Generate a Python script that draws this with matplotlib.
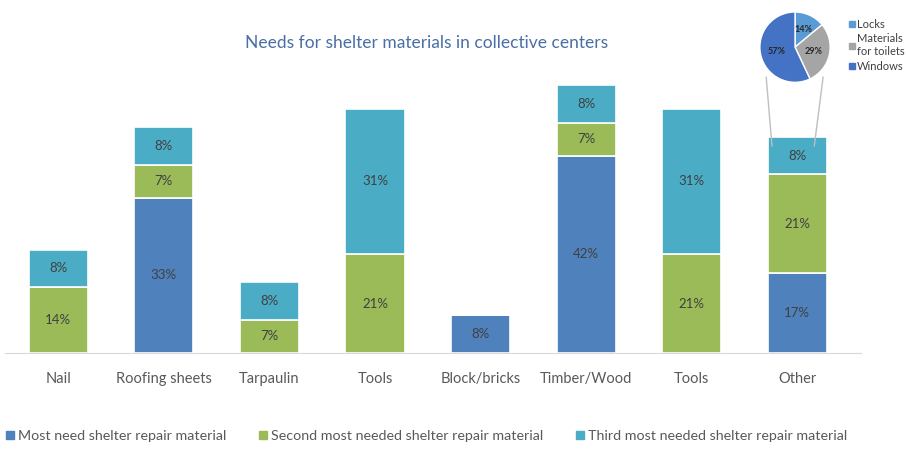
import matplotlib
matplotlib.use('Agg')
import matplotlib.pyplot as plt
import numpy as np
from matplotlib.patches import ConnectionPatch
from matplotlib.lines import Line2D

plt.rcParams['font.family'] = ['Lato', 'DejaVu Sans']

categories = ['Nail', 'Roofing sheets', 'Tarpaulin', 'Tools', 'Block/bricks',
              'Timber/Wood', 'Tools', 'Other']
most_needed = [0, 33, 0, 0, 8, 42, 0, 17]
second_needed = [14, 7, 7, 21, 0, 7, 21, 21]
third_needed = [8, 8, 8, 31, 0, 8, 31, 8]
series_names = ['Most need shelter repair material',
                'Second most needed shelter repair material',
                'Third most needed shelter repair material']

pie_labels = ['Locks', 'Materials\nfor toilets', 'Windows']
pie_values = [14, 29, 57]

BLUE, GREEN, CYAN = '#4F81BD', '#9BBB59', '#4BACC6'
PIE_COLORS = ['#5B9BD5', '#A5A5A5', '#4472C4']
TEXT = '#595959'

fig = plt.figure(figsize=(9.06, 4.49), dpi=100)
ax = fig.add_axes([0.006, 0.214, 0.944, 0.628])

x = np.arange(len(categories))
w = 0.56
bottom = np.zeros(len(categories))
for vals, col in zip([most_needed, second_needed, third_needed], [BLUE, GREEN, CYAN]):
    vals = np.array(vals, dtype=float)
    ax.bar(x, vals, w, bottom=bottom, color=col, edgecolor='white', linewidth=1.2)
    for xi, v, b in zip(x, vals, bottom):
        if v > 0:
            ax.text(xi, b + v / 2, '{:d}%'.format(int(v)), ha='center', va='center',
                    fontsize=9.5, color='#404040')
    bottom += vals

ax.set_xlim(-0.5, 7.6)
ax.set_ylim(0, 60)
ax.set_xticks(x)
ax.set_xticklabels(categories, fontsize=10.5, color=TEXT)
ax.tick_params(axis='x', length=0, pad=14)
ax.set_yticks([])
for s in ['top', 'left', 'right']:
    ax.spines[s].set_visible(False)
ax.spines['bottom'].set_color('#D9D9D9')

fig.text(0.471, 0.905, 'Needs for shelter materials in collective centers',
         ha='center', va='center', fontsize=12.5, color='#4A6FA5')

# bottom legend
handles = [Line2D([], [], marker='s', linestyle='', markersize=5.5, color=c)
           for c in [BLUE, GREEN, CYAN]]
fig.legend(handles, series_names, loc='lower left', bbox_to_anchor=(-0.009, -0.012),
           ncol=3, frameon=False, fontsize=10.3, handletextpad=0.15, columnspacing=2.15,
           labelcolor=TEXT, handlelength=0.8)

# pie inset
pax = fig.add_axes([0.829, 0.797, 0.097, 0.196])
wedges, _ = pax.pie(pie_values, colors=PIE_COLORS, startangle=90, counterclock=False,
                    wedgeprops=dict(edgecolor='white', linewidth=1))
for wdg, v in zip(wedges, pie_values):
    ang = np.deg2rad((wdg.theta1 + wdg.theta2) / 2)
    r = 0.55
    pax.text(r * np.cos(ang), r * np.sin(ang), '{}%'.format(v), ha='center', va='center',
             fontsize=6.5, fontweight='bold', color='#262626')
pax.set_aspect('equal')
pie_handles = [Line2D([], [], marker='s', linestyle='', markersize=5, color=c)
               for c in PIE_COLORS]
pax.legend(pie_handles, pie_labels, loc='center left', bbox_to_anchor=(0.98, 0.52),
           frameon=False, fontsize=8, handletextpad=0.1, handlelength=0.8,
           labelspacing=0.35, labelcolor='#404040')

# connector lines from pie to "Other" bar
top_other = bottom[-1] - 2
for xa, xb in [((-0.82, -0.85), (7 - 0.24, top_other)), ((0.8, -0.85), (7 + 0.16, top_other))]:
    con = ConnectionPatch(xyA=xa, coordsA=pax.transData, xyB=xb, coordsB=ax.transData,
                          color='#BFBFBF', linewidth=1.0)
    fig.add_artist(con)

fig.savefig('out.png', dpi=100)
